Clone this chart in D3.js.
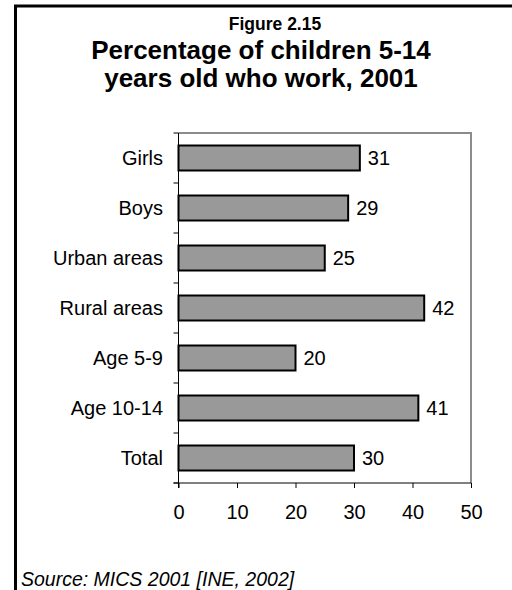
<!DOCTYPE html>
<html>
<head>
<meta charset="utf-8">
<script src="https://cdn.jsdelivr.net/npm/d3@7"></script>
<style>
  body { margin: 0; background: #fff; }
  svg { display: block; font-family: Arial, "Liberation Sans", sans-serif; }
</style>
</head>
<body>
<div id="chart"></div>
<script>
// data
const categories = ["Girls", "Boys", "Urban areas", "Rural areas", "Age 5-9", "Age 10-14", "Total"];
const values = [31, 29, 25, 42, 20, 41, 30];
const xTicks = [0, 10, 20, 30, 40, 50];
const titleLines = ["Percentage of children 5-14", "years old who work, 2001"];

const width = 512, height = 590;
const plot = { left: 178.5, right: 471, top: 133, bottom: 483 };
const labelSize = 20;

const svg = d3.select("#chart").append("svg")
    .attr("width", width)
    .attr("height", height);

// outer frame (left + top only, as in the scan)
svg.append("path")
    .attr("d", `M15.5,${height} V6 H${width}`)
    .attr("fill", "none")
    .attr("stroke", "#000")
    .attr("stroke-width", 3);

svg.append("text")
    .attr("x", 275).attr("y", 30)
    .attr("text-anchor", "middle")
    .attr("font-weight", "bold")
    .attr("font-size", 17.5)
    .text("Figure 2.15");

svg.selectAll("text.title")
    .data(titleLines)
    .join("text")
    .attr("class", "title")
    .attr("x", 261)
    .attr("y", (_d, i) => 59 + i * 28)
    .attr("text-anchor", "middle")
    .attr("font-weight", "bold")
    .attr("font-size", 26)
    .text(d => d);

const x = d3.scaleLinear()
    .domain([0, 50])
    .range([plot.left, plot.right]);

const y = d3.scaleBand()
    .domain(categories)
    .range([plot.top, plot.bottom])
    .paddingInner(0.5)
    .paddingOuter(0.25);

// gray frame on top and right
svg.append("path")
    .attr("d", `M${plot.left},${plot.top} H${plot.right} V${plot.bottom}`)
    .attr("fill", "none")
    .attr("stroke", "#8c8c8c")
    .attr("stroke-width", 2);

svg.selectAll("rect.bar")
    .data(values)
    .join("rect")
    .attr("class", "bar")
    .attr("x", x(0))
    .attr("y", (_d, i) => y(categories[i]))
    .attr("width", d => x(d) - x(0))
    .attr("height", y.bandwidth())
    .attr("fill", "#999999")
    .attr("stroke", "#000")
    .attr("stroke-width", 2);

svg.selectAll("text.val")
    .data(values)
    .join("text")
    .attr("class", "val")
    .attr("x", d => x(d) + 8)
    .attr("y", (_d, i) => y(categories[i]) + y.bandwidth() / 2)
    .attr("dy", "0.36em")
    .attr("font-size", labelSize)
    .text(d => d);

// y axis: ticks sit on the band boundaries
const yAxis = svg.append("g");
yAxis.append("line")
    .attr("x1", plot.left).attr("x2", plot.left)
    .attr("y1", plot.top).attr("y2", plot.bottom + 5)
    .attr("stroke", "#000");
yAxis.selectAll("line.tick")
    .data(d3.range(categories.length + 1))
    .join("line")
    .attr("class", "tick")
    .attr("x1", plot.left - 5).attr("x2", plot.left)
    .attr("y1", i => plot.top + i * y.step())
    .attr("y2", i => plot.top + i * y.step())
    .attr("stroke", "#000");
yAxis.selectAll("text")
    .data(categories)
    .join("text")
    .attr("x", 163)
    .attr("y", d => y(d) + y.bandwidth() / 2)
    .attr("dy", "0.36em")
    .attr("text-anchor", "end")
    .attr("font-size", labelSize)
    .text(d => d);

const xAxis = svg.append("g")
    .attr("transform", `translate(0,${plot.bottom})`)
    .call(d3.axisBottom(x).tickValues(xTicks).tickSize(5).tickPadding(17).tickSizeOuter(0));
xAxis.select(".domain").remove();
xAxis.append("line")
    .attr("x1", plot.left - 5).attr("x2", plot.right)
    .attr("stroke", "#000");
xAxis.selectAll("text")
    .attr("font-size", labelSize)
    .attr("font-family", "Arial, 'Liberation Sans', sans-serif")
    .attr("fill", "#000");

svg.append("text")
    .attr("x", 21).attr("y", 586)
    .attr("font-style", "italic")
    .attr("font-size", 19.5)
    .text("Source: MICS 2001 [INE, 2002]");
</script>
</body>
</html>
